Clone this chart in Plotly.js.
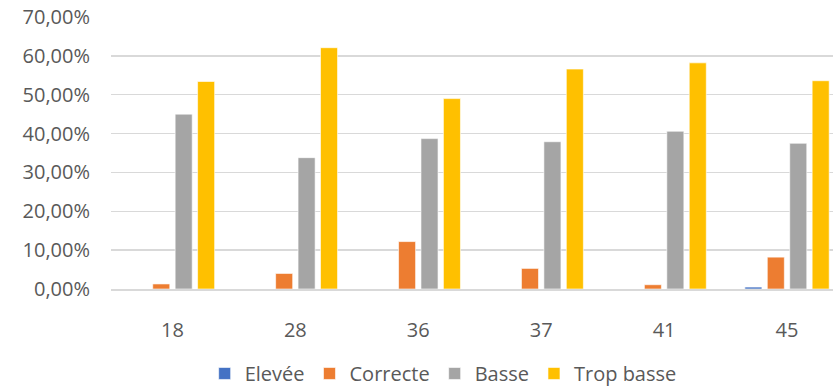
<!DOCTYPE html>
<html>
<head>
<meta charset="utf-8">
<script src="https://cdn.plot.ly/plotly-3.0.1.min.js"></script>
<style>html,body{margin:0;padding:0;background:#fff;}#chart{width:833px;height:387px;}</style>
</head>
<body>
<div id="chart"></div>
<script>
const categories = ["18", "28", "36", "37", "41", "45"];
const seriesNames = ["Elevée", "Correcte", "Basse", "Trop basse"];
const elevee = [0, 0, 0, 0, 0, 0.005];
const correcte = [0.013, 0.040, 0.122, 0.053, 0.011, 0.082];
const basse = [0.450, 0.338, 0.387, 0.379, 0.406, 0.375];
const tropBasse = [0.534, 0.621, 0.490, 0.566, 0.582, 0.536];
const colors = ["#4472C4", "#ED7D31", "#A5A5A5", "#FFC000"];
const yTicks = [0, 0.1, 0.2, 0.3, 0.4, 0.5, 0.6, 0.7];

const allValues = [elevee, correcte, basse, tropBasse];
const traces = allValues.map((vals, i) => ({
  type: "bar",
  name: seriesNames[i],
  x: categories,
  y: vals,
  marker: {color: colors[i], line: {color: "rgba(255,255,255,0.6)", width: 1}},
  hoverinfo: "skip"
}));

const font = {family: "Open Sans, Lato, sans-serif", size: 20, color: "#595959"};
const layout = {
  width: 833, height: 387,
  margin: {l: 111, r: 0, t: 17, b: 98, pad: 0},
  paper_bgcolor: "#fff", plot_bgcolor: "#fff",
  separators: ", ",
  font: font,
  barmode: "group",
  bargap: 0.27,
  bargroupgap: 0.24,
  showlegend: true,
  legend: {
    orientation: "h", xref: "container", yref: "container",
    x: 0.532, xanchor: "center", y: 0.035, yanchor: "middle",
    font: font, traceorder: "normal", itemwidth: 30
  },
  xaxis: {
    type: "category",
    range: [-0.5, 5.374],
    showgrid: false, zeroline: false,
    showline: true, linecolor: "#d9d9d9", linewidth: 1.5,
    ticks: "", tickfont: font, ticklabelstandoff: 22
  },
  yaxis: {
    range: [0, 0.7],
    tickvals: yTicks,
    tickformat: ".2%",
    showgrid: true, gridcolor: "#d9d9d9", gridwidth: 1.3,
    zeroline: false, showline: false,
    ticks: "", tickfont: font, ticklabelstandoff: 20
  }
};
Plotly.newPlot("chart", traces, layout, {displayModeBar: false, staticPlot: true});
</script>
</body>
</html>
